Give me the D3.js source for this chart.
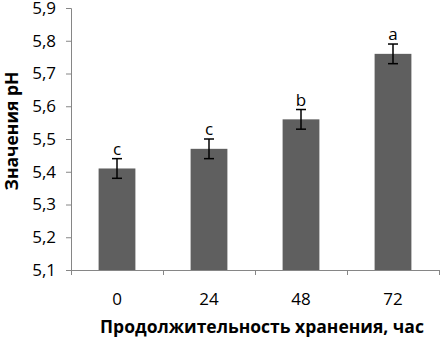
<!DOCTYPE html>
<html>
<head>
<meta charset="utf-8">
<script src="https://cdn.jsdelivr.net/npm/d3@7"></script>
<style>
  body { margin: 0; background: #fff; }
  text { font-family: "Open Sans", Lato, sans-serif; fill: #000; }
</style>
</head>
<body>
<div id="chart"></div>
<script>
// data
var categories = ["0", "24", "48", "72"];
var phValues = [5.41, 5.47, 5.56, 5.76];
var phErrors = [0.03, 0.03, 0.03, 0.03];
var letters = ["c", "c", "b", "a"];
var yTicks = [5.1, 5.2, 5.3, 5.4, 5.5, 5.6, 5.7, 5.8, 5.9];

var width = 440, height = 339;
var plotLeft = 71, plotRight = 439, plotTop = 8, plotBottom = 270;

var svg = d3.select("#chart").append("svg")
    .attr("width", width)
    .attr("height", height);

var x = d3.scaleBand()
    .domain(categories)
    .range([plotLeft, plotRight])
    .paddingInner(0.6)
    .paddingOuter(0.3);

var y = d3.scaleLinear()
    .domain([5.1, 5.9])
    .range([plotBottom, plotTop]);

var fmt = function (d) { return d3.format(".1f")(d).replace(".", ","); };

// y axis
var yAxis = svg.append("g")
    .attr("transform", "translate(" + plotLeft + ",0)")
    .call(d3.axisLeft(y).tickValues(yTicks).tickFormat(fmt).tickSize(5).tickPadding(10));
yAxis.select(".domain").attr("stroke", "#868686");
yAxis.selectAll(".tick line").attr("stroke", "#868686");
yAxis.selectAll("text").style("font-size", "17px").attr("fill", "#000");

// bars
svg.selectAll("rect.bar")
    .data(phValues)
    .enter().append("rect")
    .attr("class", "bar")
    .attr("x", function (d, i) { return x(categories[i]); })
    .attr("y", function (d) { return y(d); })
    .attr("width", x.bandwidth())
    .attr("height", function (d) { return plotBottom - y(d); })
    .attr("fill", "#5f5f5f");

// x axis (category boundaries as ticks)
var step = x.step();
svg.append("line")
    .attr("x1", plotLeft).attr("x2", plotRight)
    .attr("y1", plotBottom + 0.5).attr("y2", plotBottom + 0.5)
    .attr("stroke", "#868686");
d3.range(categories.length + 1).forEach(function (k) {
    var xx = Math.round(plotLeft + k * step) + 0.5;
    svg.append("line")
        .attr("x1", xx).attr("x2", xx)
        .attr("y1", plotBottom).attr("y2", plotBottom + 5)
        .attr("stroke", "#868686");
});
svg.selectAll("text.xlab")
    .data(categories)
    .enter().append("text")
    .attr("class", "xlab")
    .attr("x", function (d) { return x(d) + x.bandwidth() / 2; })
    .attr("y", 305)
    .attr("text-anchor", "middle")
    .style("font-size", "17px")
    .text(function (d) { return d; });

// error bars
var eb = svg.selectAll("g.err")
    .data(phValues)
    .enter().append("g")
    .attr("class", "err")
    .attr("transform", function (d, i) { return "translate(" + (x(categories[i]) + x.bandwidth() / 2) + ",0)"; });
eb.append("line")
    .attr("y1", function (d, i) { return y(d + phErrors[i]); })
    .attr("y2", function (d, i) { return y(d - phErrors[i]); })
    .attr("stroke", "#000").attr("stroke-width", 1.5);
eb.append("line")
    .attr("x1", -5).attr("x2", 5)
    .attr("y1", function (d, i) { return y(d + phErrors[i]); })
    .attr("y2", function (d, i) { return y(d + phErrors[i]); })
    .attr("stroke", "#000").attr("stroke-width", 1.5);
eb.append("line")
    .attr("x1", -5).attr("x2", 5)
    .attr("y1", function (d, i) { return y(d - phErrors[i]); })
    .attr("y2", function (d, i) { return y(d - phErrors[i]); })
    .attr("stroke", "#000").attr("stroke-width", 1.5);
eb.append("text")
    .attr("y", function (d, i) { return y(d + phErrors[i]) - 4; })
    .attr("text-anchor", "middle")
    .style("font-size", "17px")
    .text(function (d, i) { return letters[i]; });

// axis titles
svg.append("text")
    .attr("transform", "translate(18,131) rotate(-90)")
    .attr("text-anchor", "middle")
    .style("font-size", "17.5px")
    .style("font-weight", "bold")
    .text("Значения рН");

svg.append("text")
    .attr("x", 262)
    .attr("y", 333)
    .attr("text-anchor", "middle")
    .style("font-size", "17.5px")
    .style("font-weight", "bold")
    .text("Продолжительность хранения, час");
</script>
</body>
</html>
